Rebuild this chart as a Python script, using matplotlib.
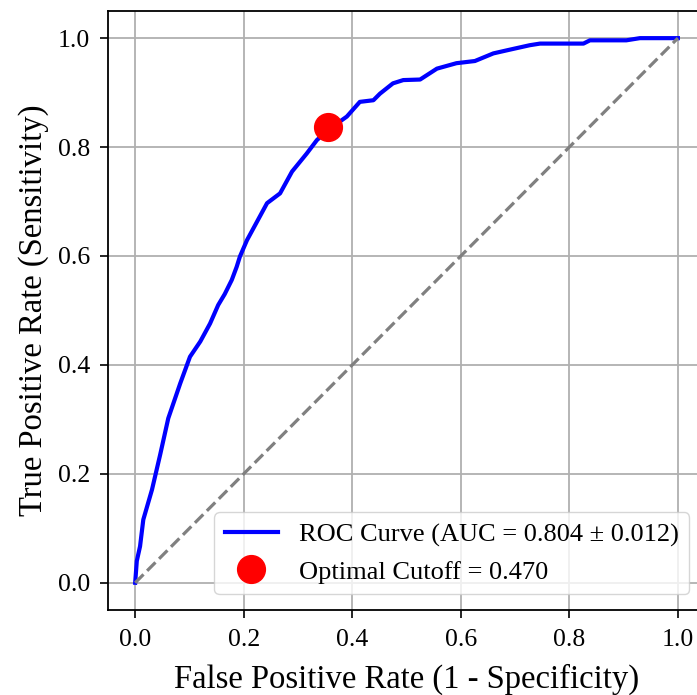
import matplotlib.pyplot as plt

# ROC points
fpr = [0, 0.003, 0.009, 0.015, 0.031, 0.046, 0.061, 0.083, 0.101, 0.120, 0.138, 0.153,
       0.165, 0.178, 0.187, 0.193, 0.206, 0.243, 0.267, 0.289, 0.316, 0.335, 0.359, 0.390,
       0.414, 0.439, 0.451, 0.475, 0.494, 0.525, 0.556, 0.592, 0.626, 0.660, 0.691, 0.727,
       0.746, 0.826, 0.838, 0.905, 0.930, 1.0]
tpr = [0, 0.040, 0.067, 0.116, 0.171, 0.235, 0.302, 0.366, 0.415, 0.443, 0.476, 0.510,
       0.530, 0.556, 0.580, 0.599, 0.629, 0.697, 0.715, 0.755, 0.788, 0.813, 0.834, 0.856,
       0.883, 0.886, 0.898, 0.917, 0.923, 0.924, 0.944, 0.954, 0.958, 0.972, 0.979, 0.987,
       0.990, 0.990, 0.996, 0.996, 1.0, 1.0]
auc_mean = 0.804
auc_std = 0.012
opt_fpr = 0.355
opt_tpr = 0.837
opt_cutoff = 0.470
ticks = [0.0, 0.2, 0.4, 0.6, 0.8, 1.0]

plt.rcParams['font.family'] = ['Liberation Serif', 'DejaVu Serif']

fig = plt.figure(figsize=(6.97, 6.95), dpi=100)
ax = fig.add_axes([0.155, 0.1223, 0.8565, 0.862])

ax.plot(fpr, tpr, color='blue', lw=3,
        label=f'ROC Curve (AUC = {auc_mean:.3f} \u00b1 {auc_std:.3f})')
ax.plot([0, 1], [0, 1], color='gray', lw=2.3, linestyle='--')
ax.plot(opt_fpr, opt_tpr, 'o', color='red', markersize=20, linestyle='none',
        label=f'Optimal Cutoff = {opt_cutoff:.3f}', zorder=5)

ax.set_xlim(-0.05, 1.05)
ax.set_ylim(-0.05, 1.05)
ax.set_xticks(ticks)
ax.set_yticks(ticks)
ax.grid(True, color='#b0b0b0', lw=1.3)
ax.tick_params(labelsize=18.5, length=6, width=1.2)
ax.tick_params(axis='x', pad=8)
ax.tick_params(axis='y', pad=7)
for s in ax.spines.values():
    s.set_linewidth(1.3)

ax.set_xlabel('False Positive Rate (1 - Specificity)', fontsize=23.5, labelpad=9)
ax.set_ylabel('True Positive Rate (Sensitivity)', fontsize=23.5, labelpad=6)
ax.legend(loc='lower right', fontsize=19, handlelength=2.0, borderaxespad=0.6)

fig.savefig('out.png', dpi=100)
